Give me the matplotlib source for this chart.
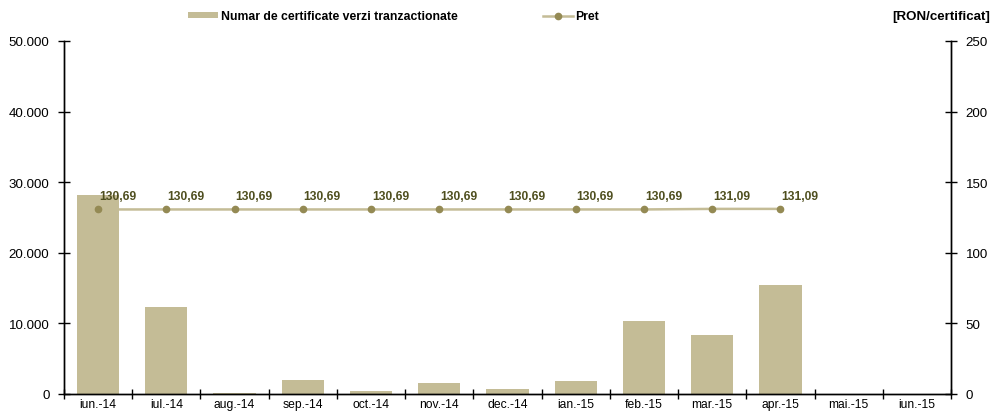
import matplotlib
matplotlib.use("Agg")
import matplotlib.pyplot as plt
from matplotlib.ticker import FuncFormatter, FixedLocator
from matplotlib.lines import Line2D
from matplotlib.patches import Patch
import numpy as np

plt.rcParams['font.family'] = ['Liberation Sans', 'DejaVu Sans']

months = ["iun.-14", "iul.-14", "aug.-14", "sep.-14", "oct.-14", "nov.-14", "dec.-14",
          "ian.-15", "feb.-15", "mar.-15", "apr.-15", "mai.-15", "iun.-15"]
volume = [28200, 12300, 200, 2000, 400, 1500, 700, 1900, 10300, 8400, 15400, 0, 0]
price = [130.69, 130.69, 130.69, 130.69, 130.69, 130.69, 130.69, 130.69, 130.69, 131.09, 131.09]
price_labels = ["130,69"] * 9 + ["131,09"] * 2

bar_color = "#C4BC96"
line_color = "#C4BC96"
marker_color = "#948A54"
label_color = "#4F4F1F"

fig = plt.figure(figsize=(9.92, 4.14), dpi=100)
ax = fig.add_axes([0.0645, 0.0459, 0.8942, 0.8527])
ax2 = ax.twinx()

x = np.arange(len(months))
ax.bar(x, volume, width=0.62, color=bar_color, zorder=2)
ax.set_xlim(-0.5, len(months) - 0.5)
ax.set_ylim(0, 50000)
ax.set_yticks(range(0, 50001, 10000))
ax.yaxis.set_major_formatter(FuncFormatter(lambda v, p: f"{int(v):,}".replace(",", ".")))

ax.set_xticks(x)
ax.set_xticklabels(months)
ax.xaxis.set_minor_locator(FixedLocator(np.arange(-0.5, len(months), 1.0)))
ax.tick_params(axis="x", which="major", length=0, labelsize=8.7, pad=3)
ax.tick_params(axis="x", which="minor", direction="inout", length=7, width=1)
ax.tick_params(axis="y", direction="inout", length=9, width=1, labelsize=9.6, pad=6)

px = np.arange(len(price))
ax2.plot(px, price, color=line_color, lw=1.8, marker="o", markersize=4.5,
         markerfacecolor=marker_color, markeredgecolor=marker_color, zorder=3)
for xi, yi, lab in zip(px, price, price_labels):
    ax2.annotate(lab, (xi, yi), xytext=(14, 9.5), textcoords="offset points",
                 ha="center", va="center", fontsize=8.7, fontweight="bold", color=label_color)
ax2.set_ylim(0, 250)
ax2.set_yticks(range(0, 251, 50))
ax2.tick_params(axis="y", direction="inout", length=9, width=1, labelsize=9.6, pad=6)

for a in (ax, ax2):
    a.spines["top"].set_visible(False)
    for s in ("left", "right", "bottom"):
        a.spines[s].set_linewidth(1)
        a.spines[s].set_color("black")

handles = [Patch(facecolor=bar_color, edgecolor="none"),
           Line2D([0], [0], color=line_color, lw=1.8, marker="o", markersize=4.5,
                  markerfacecolor=marker_color, markeredgecolor=marker_color)]
fig.legend(handles, ["Numar de certificate verzi tranzactionate", "Pret"],
           loc="center", bbox_to_anchor=(0.397, 0.958), ncol=2, frameon=False,
           prop={"size": 8.8, "weight": "bold"}, handlelength=2.45, handleheight=0.45,
           handletextpad=0.2, columnspacing=7.0, borderpad=0, borderaxespad=0)
fig.text(0.998, 0.958, "[RON/certificat]", ha="right", va="center",
         fontsize=9.6, fontweight="bold")

fig.savefig("out.png", dpi=100)
